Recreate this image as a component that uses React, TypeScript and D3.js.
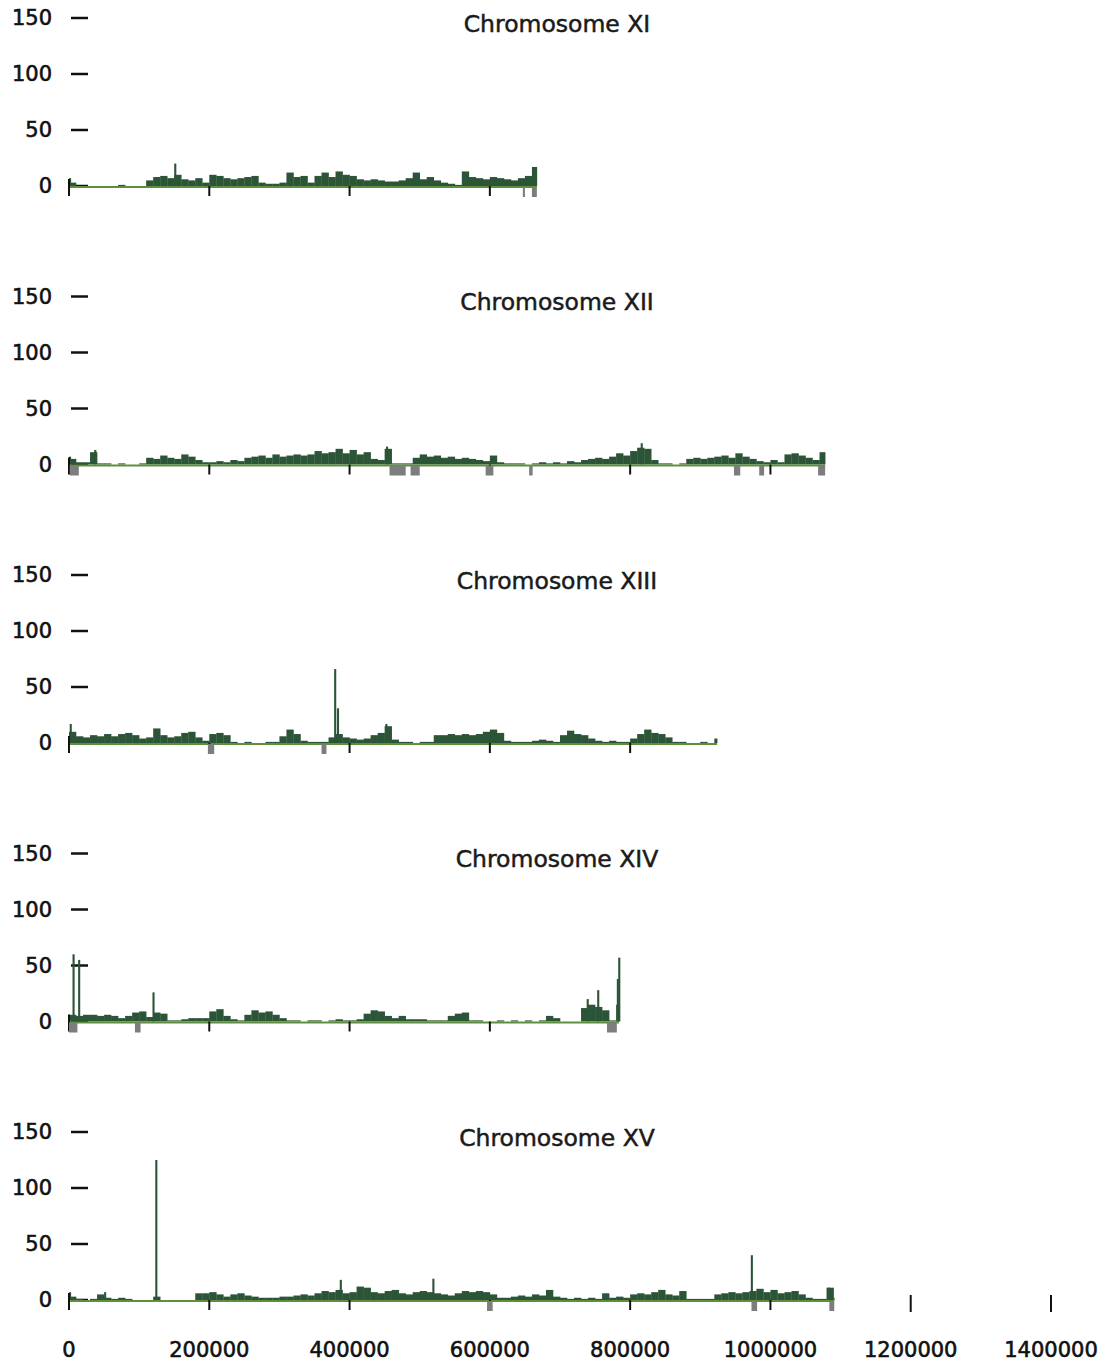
import React from "react";
import * as d3 from "d3";

const CHROMOSOMES = ["XI", "XII", "XIII", "XIV", "XV"];
const LENGTHS_KB = [667, 1078, 924, 784, 1091];
const BIN_KB = 10;

const VALUES_XI = [3, 0, 0, 0, 0, 0, 0, 1, 0, 0, 0, 5, 8, 9, 7, 10, 6, 5, 7, 3,
  10, 9, 7, 6, 7, 8, 9, 3, 2, 2, 3, 12, 8, 9, 3, 9, 12, 8, 13, 10,
  9, 6, 5, 6, 5, 4, 4, 5, 7, 12, 6, 8, 5, 3, 2, 1, 13, 8, 7, 6,
  8, 7, 6, 5, 7, 9, 17];
const VALUES_XII = [5, 2, 2, 11, 1, 1, 0, 1, 0, 0, 1, 6, 5, 8, 6, 5, 9, 7, 4, 2,
  2, 3, 2, 4, 3, 6, 7, 8, 6, 9, 7, 8, 9, 8, 9, 12, 10, 11, 14, 10,
  13, 9, 11, 5, 4, 14, 1, 1, 1, 6, 9, 7, 8, 6, 7, 5, 6, 5, 4, 3,
  8, 2, 1, 1, 1, 0, 1, 2, 1, 2, 1, 3, 2, 4, 5, 6, 5, 7, 10, 8,
  12, 15, 14, 4, 1, 1, 0, 1, 5, 6, 5, 6, 7, 8, 6, 10, 7, 5, 3, 2,
  4, 2, 9, 10, 8, 6, 4, 11];
const VALUES_XIII = [10, 6, 5, 7, 6, 8, 6, 8, 9, 7, 4, 5, 13, 7, 5, 6, 9, 10, 5, 2,
  8, 9, 7, 1, 0, 1, 0, 0, 1, 1, 6, 12, 8, 2, 1, 1, 1, 5, 8, 5,
  4, 3, 4, 7, 9, 15, 3, 1, 1, 0, 1, 1, 7, 7, 8, 7, 8, 7, 8, 10,
  12, 9, 2, 1, 1, 1, 2, 3, 2, 1, 7, 11, 8, 7, 4, 2, 1, 2, 1, 1,
  4, 8, 12, 9, 8, 5, 1, 1, 0, 0, 1, 0, 4];
const VALUES_XIV = [6, 5, 6, 6, 5, 6, 5, 3, 5, 8, 9, 4, 8, 7, 1, 1, 2, 3, 3, 3,
  9, 11, 5, 2, 1, 6, 10, 8, 9, 6, 3, 1, 1, 0, 1, 1, 0, 1, 2, 1,
  1, 2, 7, 10, 9, 5, 3, 5, 2, 2, 2, 1, 1, 1, 5, 7, 8, 1, 1, 0,
  0, 1, 0, 1, 0, 1, 0, 1, 5, 3, 0, 0, 0, 12, 15, 13, 10, 1, 15];
const VALUES_XV = [3, 1, 0, 1, 5, 2, 1, 2, 1, 0, 0, 0, 3, 0, 0, 0, 0, 0, 6, 6,
  7, 5, 3, 5, 6, 4, 3, 2, 2, 2, 3, 3, 4, 5, 4, 6, 8, 7, 9, 6,
  7, 12, 11, 7, 6, 8, 9, 6, 5, 7, 8, 7, 6, 5, 4, 6, 8, 7, 8, 7,
  5, 2, 2, 3, 4, 3, 5, 4, 9, 3, 2, 1, 2, 1, 2, 1, 6, 2, 3, 2,
  5, 6, 5, 7, 9, 5, 4, 8, 1, 1, 1, 1, 5, 6, 7, 6, 7, 8, 10, 7,
  9, 6, 7, 8, 5, 2, 1, 1, 11, 2];
const ALL_VALUES = [VALUES_XI, VALUES_XII, VALUES_XIII, VALUES_XIV, VALUES_XV];

// narrow peaks: [position kb, value]
const SPIKES_XI = [[150, 20], [0, 7]];
const SPIKES_XII = [[36, 13], [452, 16], [815, 19], [0, 7]];
const SPIKES_XIII = [[1, 17], [378, 66], [382, 31], [451, 17]];
const SPIKES_XIV = [[5, 60], [13, 55], [119, 26], [738, 20], [753, 28], [781, 38], [783, 57]];
const SPIKES_XV = [[123, 125], [50, 7], [386, 18], [518, 19], [972, 40], [1082, 11], [0, 7]];
const ALL_SPIKES = [SPIKES_XI, SPIKES_XII, SPIKES_XIII, SPIKES_XIV, SPIKES_XV];

// grey annotation blocks below the axis: [start kb, end kb]
const GAPS_XI = [[647, 650], [660, 667]];
const GAPS_XII = [[1, 14], [457, 480], [487, 500], [594, 605], [656, 661], [948, 957], [984, 991], [1068, 1078]];
const GAPS_XIII = [[198, 207], [360, 367]];
const GAPS_XIV = [[0, 12], [94, 102], [767, 781]];
const GAPS_XV = [[596, 604], [973, 981], [1084, 1091]];
const ALL_GAPS = [GAPS_XI, GAPS_XII, GAPS_XIII, GAPS_XIV, GAPS_XV];

const Y_TICKS = [0, 50, 100, 150];
const X_TICKS = [0, 200000, 400000, 600000, 800000, 1000000, 1200000, 1400000];

const W = 1109;
const H = 1370;
const FIRST_BASE = 186;
const PANEL_STEP = 278.5;
const FONT = "DejaVu Sans, Verdana, sans-serif";

const FILL = "#2c5538";
const AXIS_GREEN = "#5f8f3c";

export default function App() {
  const x = d3.scaleLinear().domain([0, 1400000]).range([69, 1051]);
  return (
    <svg width={W} height={H} style={{ position: "absolute", left: 0, top: 0, background: "#fff" }}>
      {CHROMOSOMES.map((name, i) => {
        const base = FIRST_BASE + i * PANEL_STEP;
        const y = d3.scaleLinear().domain([0, 150]).range([base, base - 168]);
        const lenBp = LENGTHS_KB[i] * 1000;
        const vals = ALL_VALUES[i];
        const isLast = i === CHROMOSOMES.length - 1;
        return (
          <g key={name}>
            <text x={557} y={y(150) + 7} fontFamily={FONT} fontSize={23.5} fill="#1a1a1a" stroke="#1a1a1a" strokeWidth={0.5} textAnchor="middle" dominantBaseline="middle">
              {"Chromosome " + name}
            </text>
            {Y_TICKS.map((t) => (
              <g key={t}>
                <text x={52} y={y(t) + 1} fontFamily={FONT} fontSize={21} fill="#111" stroke="#111" strokeWidth={0.6} textAnchor="end" dominantBaseline="middle">
                  {t}
                </text>
                <line x1={71} x2={88} y1={y(t)} y2={y(t)} stroke="#111" strokeWidth={2.5} />
              </g>
            ))}
            {vals.map((v, j) => {
              const s = j * BIN_KB * 1000;
              const e = Math.min((j + 1) * BIN_KB * 1000, lenBp);
              if (v <= 0 || e <= s) return null;
              return (
                <rect key={"b" + j} x={x(s)} y={y(v)} width={x(e) - x(s) + 0.3} height={y(0) - y(v)} fill={FILL} />
              );
            })}
            {ALL_SPIKES[i].map(([kb, v], j) => {
              const s = kb * 1000;
              return (
                <rect key={"s" + j} x={x(s)} y={y(v)} width={x(s + 3000) - x(s)} height={y(0) - y(v)} fill={FILL} />
              );
            })}
            <line x1={x(0)} x2={x(lenBp)} y1={y(0) + 1} y2={y(0) + 1} stroke={AXIS_GREEN} strokeWidth={2} />
            {X_TICKS.filter((t) => t <= lenBp).map((t) => (
              <line key={"t" + t} x1={x(t)} x2={x(t)} y1={t === 0 ? y(0) - 7 : y(0)} y2={y(0) + 10} stroke="#111" strokeWidth={2} />
            ))}
            {ALL_GAPS[i].map(([a, b], j) => (
              <rect key={"g" + j} x={x(a * 1000)} y={y(0) + 1} width={Math.max(x(b * 1000) - x(a * 1000), 2)} height={10} fill="#7d7d7d" />
            ))}
            {isLast &&
              X_TICKS.filter((t) => t > lenBp).map((t) => (
                <line key={"e" + t} x1={x(t)} x2={x(t)} y1={y(0) - 5} y2={y(0) + 12} stroke="#111" strokeWidth={2} />
              ))}
            {isLast &&
              X_TICKS.map((t) => (
                <text key={"l" + t} x={x(t)} y={y(0) + 51} fontFamily={FONT} fontSize={21} fill="#111" stroke="#111" strokeWidth={0.6} textAnchor="middle" dominantBaseline="middle">
                  {t}
                </text>
              ))}
          </g>
        );
      })}
    </svg>
  );
}
